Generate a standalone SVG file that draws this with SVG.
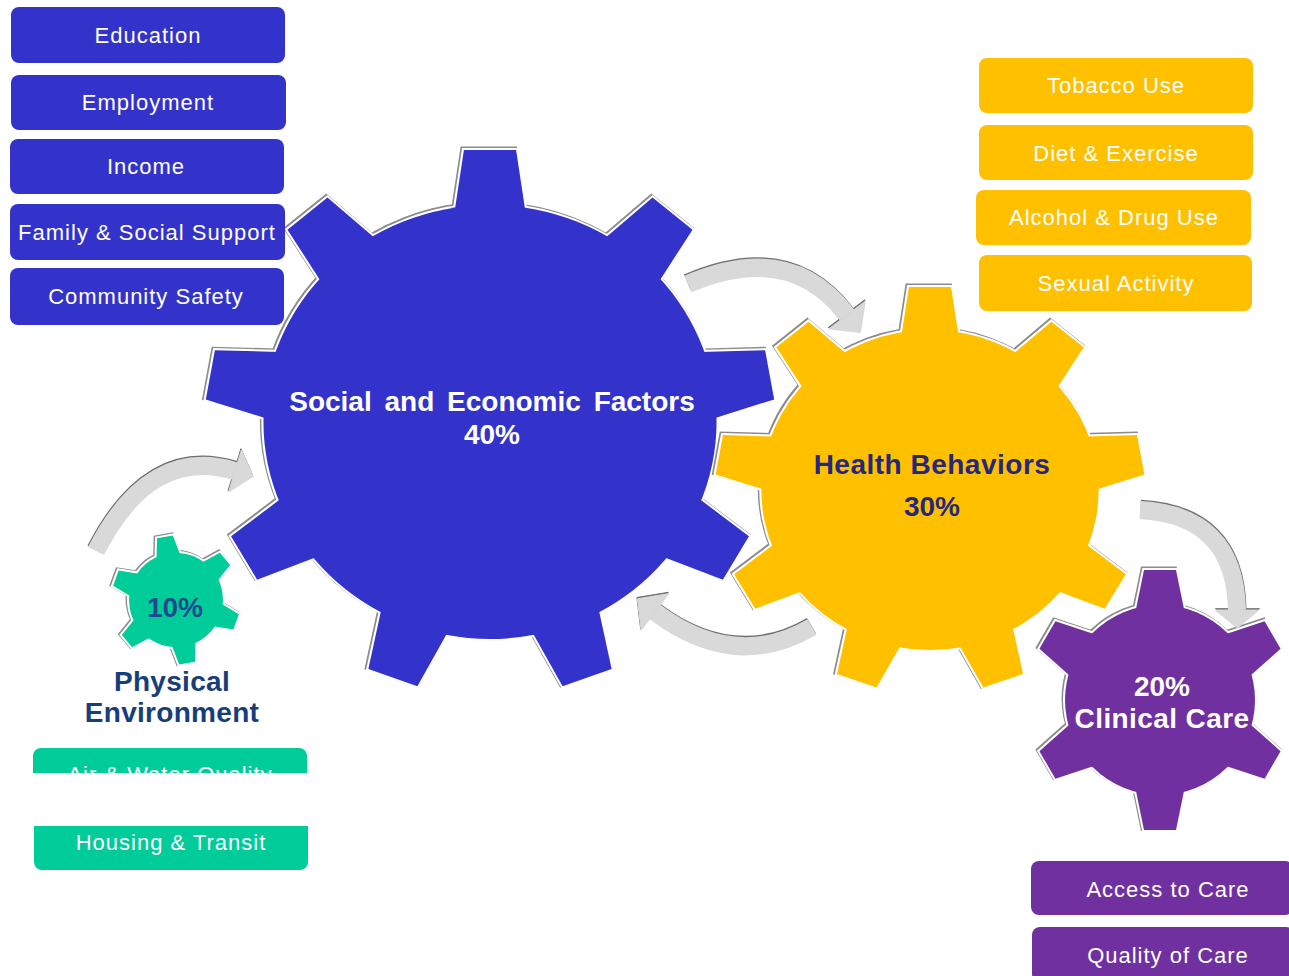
<svg xmlns="http://www.w3.org/2000/svg" xmlns:xlink="http://www.w3.org/1999/xlink" width="1289" height="976" viewBox="0 0 1289 976">
  <style>
    .box-text { font-family: "Liberation Sans", Arial, sans-serif; font-size: 22px; fill: #ffffff; text-anchor: middle; letter-spacing: 1px; }
    .gear-title { font-family: "Liberation Sans", Arial, sans-serif; font-weight: bold; font-size: 28px; text-anchor: middle; }
    .blue { fill: #3333CC; }
    .yellow { fill: #FFC000; }
    .teal { fill: #00CC99; }
    .purple { fill: #7030A0; }
    .edge { fill: #8c8c8c; stroke: #8c8c8c; stroke-width: 4.5; }
    .halo { fill: #ffffff; stroke: #ffffff; stroke-width: 4; }
    .band { fill: none; stroke-width: 18; }
    .arrow-edge { fill: #6e6e6e; stroke: #6e6e6e; }
    .arrow-fill { fill: #D9D9D9; stroke: #D9D9D9; }
  </style>
  <defs>
    <!-- large gear: 9 teeth -->
    <g id="gear9L">
      <circle r="217"/>
      <polygon id="toothL" points="-34,-210 34,-210 25,-272 -25,-272"/>
      <use href="#toothL" transform="rotate(40)"/>
      <use href="#toothL" transform="rotate(80)"/>
      <use href="#toothL" transform="rotate(120)"/>
      <use href="#toothL" transform="rotate(160)"/>
      <use href="#toothL" transform="rotate(200)"/>
      <use href="#toothL" transform="rotate(240)"/>
      <use href="#toothL" transform="rotate(280)"/>
      <use href="#toothL" transform="rotate(320)"/>
    </g>
    <!-- medium gear: 9 teeth -->
    <g id="gear9M">
      <circle r="160"/>
      <polygon id="toothM" points="-27,-155 27,-155 20,-203 -20,-203"/>
      <use href="#toothM" transform="rotate(40)"/>
      <use href="#toothM" transform="rotate(80)"/>
      <use href="#toothM" transform="rotate(120)"/>
      <use href="#toothM" transform="rotate(160)"/>
      <use href="#toothM" transform="rotate(200)"/>
      <use href="#toothM" transform="rotate(240)"/>
      <use href="#toothM" transform="rotate(280)"/>
      <use href="#toothM" transform="rotate(320)"/>
    </g>
    <!-- six-tooth gear -->
    <g id="gear6">
      <circle r="95"/>
      <polygon id="tooth6" points="-24,-91 24,-91 16,-130 -16,-130"/>
      <use href="#tooth6" transform="rotate(60)"/>
      <use href="#tooth6" transform="rotate(120)"/>
      <use href="#tooth6" transform="rotate(180)"/>
      <use href="#tooth6" transform="rotate(240)"/>
      <use href="#tooth6" transform="rotate(300)"/>
    </g>
    <!-- small six-tooth gear -->
    <g id="gear6S">
      <circle r="47"/>
      <polygon id="tooth6S" points="-12,-44 12,-44 8,-64 -8,-64"/>
      <use href="#tooth6S" transform="rotate(60)"/>
      <use href="#tooth6S" transform="rotate(120)"/>
      <use href="#tooth6S" transform="rotate(180)"/>
      <use href="#tooth6S" transform="rotate(240)"/>
      <use href="#tooth6S" transform="rotate(300)"/>
    </g>
    <!-- curved arrows -->
    <g id="arrowTop">
      <path class="band" d="M688 284 Q790 240 847 315"/>
      <polygon points="865.3,301.1 828.7,328.9 860.3,332.5"/>
    </g>
    <g id="arrowBottom">
      <path class="band" d="M812 627 Q735 672 655 612"/>
      <polygon points="668.8,593.6 641.2,630.4 637.4,598.8"/>
    </g>
    <g id="arrowLeft">
      <path class="band" d="M96 551 Q150 445 235 471"/>
      <polygon points="228.6,492 241.4,450 253.2,476.5"/>
    </g>
    <g id="arrowRight">
      <path class="band" d="M1140 510 Q1235 515 1237 610"/>
      <polygon points="1215,610 1259,610 1237.4,628"/>
    </g>
  </defs>

  <rect width="1289" height="976" fill="#ffffff"/>

  <!-- gears -->
  <g id="gear-social">
    <g transform="translate(490,422) scale(1.044,1)">
      <use href="#gear9L" class="edge" transform="translate(-1.2,-1.2)"/>
      <use href="#gear9L" class="halo"/>
      <use href="#gear9L" class="blue"/>
    </g>
    <text class="gear-title" x="492" y="411" fill="#ffffff" word-spacing="5">Social and Economic Factors</text>
    <text class="gear-title" x="492" y="444" fill="#ffffff">40%</text>
  </g>

  <g id="gear-behaviors">
    <g transform="translate(930,490) scale(1.054,1)">
      <use href="#gear9M" class="edge" transform="translate(-1.2,-1.2)"/>
      <use href="#gear9M" class="halo"/>
      <use href="#gear9M" class="yellow"/>
    </g>
    <text class="gear-title" x="932" y="474" fill="#26267F" letter-spacing="0.5">Health Behaviors</text>
    <text class="gear-title" x="932" y="516" fill="#26267F">30%</text>
  </g>

  <g id="gear-clinical">
    <g transform="translate(1160,700)">
      <use href="#gear6" class="edge" transform="translate(-1.2,-1.2)"/>
      <use href="#gear6" class="halo"/>
      <use href="#gear6" class="purple"/>
    </g>
    <text class="gear-title" x="1162" y="696" fill="#ffffff" font-size="25">20%</text>
    <text class="gear-title" x="1162" y="728" fill="#ffffff" font-size="25" letter-spacing="0.4">Clinical Care</text>
  </g>

  <g id="gear-physical">
    <g transform="translate(176,600) rotate(-10)">
      <use href="#gear6S" class="edge" transform="translate(-1,-1)"/>
      <use href="#gear6S" class="halo"/>
      <use href="#gear6S" class="teal"/>
    </g>
    <text class="gear-title" x="175" y="617" fill="#1D4A8E" font-size="24">10%</text>
    <text class="gear-title" x="172" y="691" fill="#173D7A" font-size="26" letter-spacing="0.3">Physical</text>
    <text class="gear-title" x="172" y="722" fill="#173D7A" font-size="26" letter-spacing="0.3">Environment</text>
  </g>

  <!-- connectors -->
  <g id="connectors">
    <use href="#arrowTop" class="arrow-edge" transform="translate(-0.5,-1.3)"/>
    <use href="#arrowTop" class="arrow-fill"/>
    <use href="#arrowBottom" class="arrow-edge" transform="translate(-0.5,-1.3)"/>
    <use href="#arrowBottom" class="arrow-fill"/>
    <use href="#arrowLeft" class="arrow-edge" transform="translate(-0.5,-1.3)"/>
    <use href="#arrowLeft" class="arrow-fill"/>
    <use href="#arrowRight" class="arrow-edge" transform="translate(0.5,-1.3)"/>
    <use href="#arrowRight" class="arrow-fill"/>
  </g>

  <!-- social and economic factor boxes -->
  <g id="box-education">
    <rect class="blue" x="11" y="7" width="274" height="56" rx="8"/>
    <text class="box-text" x="148" y="43">Education</text>
  </g>
  <g id="box-employment">
    <rect class="blue" x="11" y="75" width="275" height="55" rx="8"/>
    <text class="box-text" x="148" y="110">Employment</text>
  </g>
  <g id="box-income">
    <rect class="blue" x="10" y="139" width="274" height="55" rx="8"/>
    <text class="box-text" x="146" y="174">Income</text>
  </g>
  <g id="box-family">
    <rect class="blue" x="10" y="204" width="275" height="56" rx="8"/>
    <text class="box-text" x="147" y="240">Family &amp; Social Support</text>
  </g>
  <g id="box-safety">
    <rect class="blue" x="10" y="268" width="274" height="57" rx="8"/>
    <text class="box-text" x="146" y="304">Community Safety</text>
  </g>

  <!-- health behavior boxes -->
  <g id="box-tobacco">
    <rect class="yellow" x="979" y="58" width="274" height="55" rx="8"/>
    <text class="box-text" x="1116" y="93">Tobacco Use</text>
  </g>
  <g id="box-diet">
    <rect class="yellow" x="979" y="125" width="274" height="55" rx="8"/>
    <text class="box-text" x="1116" y="161">Diet &amp; Exercise</text>
  </g>
  <g id="box-alcohol">
    <rect class="yellow" x="976" y="190" width="275" height="55" rx="8"/>
    <text class="box-text" x="1114" y="225">Alcohol &amp; Drug Use</text>
  </g>
  <g id="box-sexual">
    <rect class="yellow" x="979" y="255" width="273" height="56" rx="8"/>
    <text class="box-text" x="1116" y="291">Sexual Activity</text>
  </g>

  <!-- physical environment boxes -->
  <g id="box-air">
    <rect class="teal" x="33" y="748" width="274" height="56" rx="8"/>
    <text class="box-text" x="170" y="782">Air &amp; Water Quality</text>
  </g>
  <g id="box-housing">
    <rect class="teal" x="34" y="815" width="274" height="55" rx="8"/>
    <text class="box-text" x="171" y="850">Housing &amp; Transit</text>
  </g>
  <rect x="30" y="773" width="278" height="53" fill="#ffffff"/>

  <!-- clinical care boxes -->
  <g id="box-access">
    <rect class="purple" x="1031" y="861" width="262" height="54" rx="8"/>
    <text class="box-text" x="1168" y="897">Access to Care</text>
  </g>
  <g id="box-quality">
    <rect class="purple" x="1032" y="927" width="262" height="55" rx="8"/>
    <text class="box-text" x="1168" y="963">Quality of Care</text>
  </g>
</svg>
